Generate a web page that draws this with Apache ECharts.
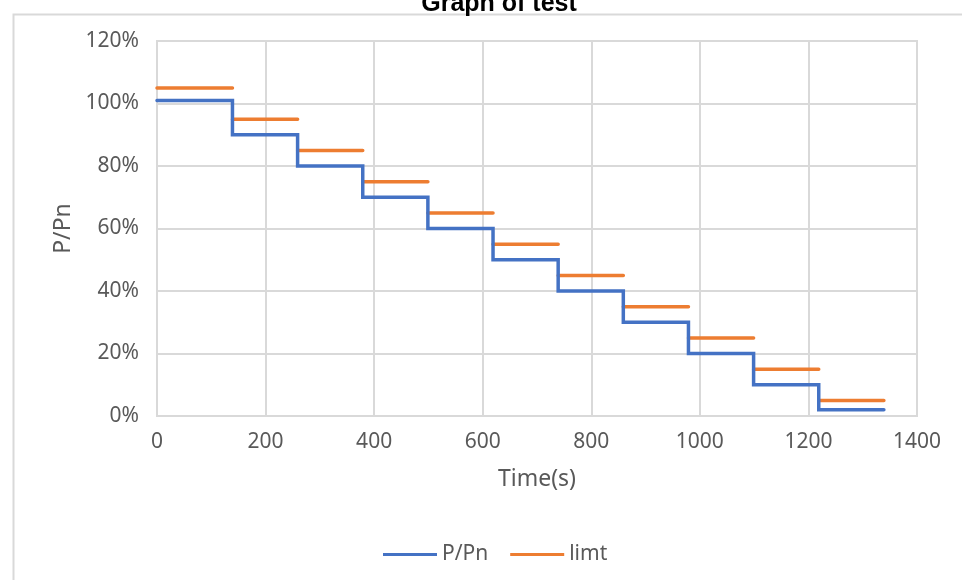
<!DOCTYPE html>
<html>
<head>
<meta charset="utf-8">
<script src="https://cdn.jsdelivr.net/npm/echarts@6/dist/echarts.min.js"></script>
<style>html,body{margin:0;padding:0;background:#fff}#c{width:962px;height:580px}</style>
</head>
<body>
<div id="c"></div>
<script>
// Step boundaries (s)
var stepTimes = [0, 139, 259, 379, 499, 619, 739, 859, 979, 1099, 1219, 1339];
// P/Pn level in each step (%)
var pPnLevels = [101, 90, 80, 70, 60, 50, 40, 30, 20, 10, 2];
// limit level in each step (%)
var limtLevels = [105, 95, 85, 75, 65, 55, 45, 35, 25, 15, 5];
var yTicks = [0, 20, 40, 60, 80, 100, 120];
var xTicks = [0, 200, 400, 600, 800, 1000, 1200, 1400];

var blueData = [];
for (var i = 0; i < pPnLevels.length; i++) {
  blueData.push([stepTimes[i], pPnLevels[i]]);
  blueData.push([stepTimes[i + 1], pPnLevels[i]]);
}
var orangeData = [];
for (var j = 0; j < limtLevels.length; j++) {
  orangeData.push([stepTimes[j], limtLevels[j]]);
  orangeData.push([stepTimes[j + 1], limtLevels[j]]);
  if (j < limtLevels.length - 1) orangeData.push('-');
}

var FONT = '"Noto Sans", sans-serif';
var gridColor = '#d9d9d9';
var chart = echarts.init(document.getElementById('c'), null, {renderer: 'canvas'});
chart.setOption({
  animation: false,
  backgroundColor: '#fff',
  title: {
    text: 'Graph of test',
    left: 494, textAlign: 'center',
    top: -13,
    textStyle: {fontFamily: 'Liberation Sans, Arial, sans-serif', fontWeight: 'bold', fontSize: 25, color: '#000'}
  },
  graphic: [{
    type: 'rect', left: 11, top: 12, z: -10, silent: true,
    shape: {width: 1000, height: 1000},
    style: {fill: 'none', stroke: gridColor, lineWidth: 2}
  }],
  grid: {left: 157, right: 45, top: 41, bottom: 164, containLabel: false, show: true, borderColor: gridColor, borderWidth: 2},
  legend: {
    left: 383, top: 544, padding: 0,
    icon: 'rect', itemWidth: 54, itemHeight: 3, itemGap: 22,
    textStyle: {fontFamily: FONT, fontSize: 21, color: '#595959'},
    data: ['P/Pn', 'limt']
  },
  xAxis: {
    type: 'value', min: 0, max: 1400, interval: 200,
    name: 'Time(s)', nameLocation: 'middle', nameGap: 52,
    nameTextStyle: {fontFamily: FONT, fontSize: 23, color: '#595959'},
    axisLine: {show: true, lineStyle: {color: gridColor, width: 2}},
    axisTick: {show: false},
    axisLabel: {fontFamily: FONT, fontSize: 21, color: '#595959', margin: 16,
      formatter: function (v) { return String(v); }},
    splitLine: {show: true, lineStyle: {color: gridColor, width: 2}}
  },
  yAxis: {
    type: 'value', min: 0, max: 120, interval: 20,
    name: 'P/Pn', nameLocation: 'middle', nameGap: 82,
    nameTextStyle: {fontFamily: FONT, fontSize: 23, color: '#595959'},
    axisLine: {show: true, lineStyle: {color: gridColor, width: 2}},
    axisTick: {show: false},
    axisLabel: {fontFamily: FONT, fontSize: 21, color: '#595959', margin: 18, formatter: '{value}%'},
    splitLine: {show: true, lineStyle: {color: gridColor, width: 2}}
  },
  series: [{
    name: 'P/Pn', type: 'line', data: blueData, showSymbol: false, symbol: 'none',
    lineStyle: {color: '#4472C4', width: 3.5, join: 'miter', cap: 'round'},
    itemStyle: {color: '#4472C4'}, z: 3
  }, {
    name: 'limt', type: 'line', data: orangeData, showSymbol: false, symbol: 'none',
    connectNulls: false,
    lineStyle: {color: '#ED7D31', width: 3.5, cap: 'round'},
    itemStyle: {color: '#ED7D31'}, z: 2
  }]
});
</script>
</body>
</html>
